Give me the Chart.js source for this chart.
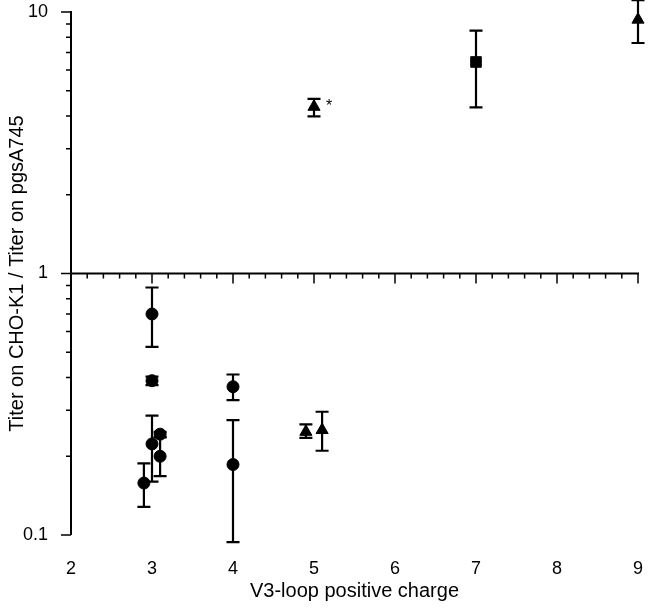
<!DOCTYPE html>
<html>
<head>
<meta charset="utf-8">
<script src="https://cdn.jsdelivr.net/npm/chart.js@4/dist/chart.umd.min.js"></script>
<style>
  html, body { margin: 0; padding: 0; background: #fff; }
</style>
</head>
<body>
<canvas id="titerChart" width="656" height="610"></canvas>
<script>
// V3-loop positive charge vs titer ratio, with the ends of each error bar
const circleX    = [3, 3, 3, 2.9, 3.1, 3.1, 4, 4];
const circleY    = [0.70, 0.389, 0.223, 0.158, 0.243, 0.200, 0.369, 0.186];
const circleLow  = [0.524, 0.374, 0.160, 0.128, 0.237, 0.168, 0.328, 0.094];
const circleHigh = [0.884, 0.403, 0.286, 0.188, 0.248, 0.236, 0.411, 0.275];

const triangleX    = [4.9, 5.1, 5, 9];
const triangleY    = [0.248, 0.252, 4.34, 9.35];
const triangleLow  = [0.235, 0.210, 3.99, 7.61];
const triangleHigh = [0.265, 0.296, 4.65, 11.1];
const triangleNote = ['', '', '*', ''];

const squareX    = [7];
const squareY    = [6.44];
const squareLow  = [4.32];
const squareHigh = [8.48];

const yTickLabels = [0.1, 1, 10];
const xMinorStep = 0.2;

Chart.defaults.font.family = '"Liberation Sans", Arial, Helvetica, sans-serif';
Chart.defaults.color = '#000';

function points(xs, ys, lo, hi, notes) {
  return xs.map((x, i) => ({ x: x, y: ys[i], lo: lo[i], hi: hi[i], note: notes ? notes[i] : '' }));
}

// axes (vertical at x=2, horizontal through y=1), error bars and the asterisk
const errorBarsAndAxes = {
  id: 'errorBarsAndAxes',
  beforeDatasetsDraw(chart) {
    const { ctx, scales: { x, y } } = chart;
    const x0 = x.getPixelForValue(x.min);
    const x1 = x.getPixelForValue(x.max);
    const yOne = y.getPixelForValue(1);
    ctx.save();
    ctx.strokeStyle = '#000';

    ctx.lineWidth = 2;
    ctx.beginPath();
    ctx.moveTo(x0, y.getPixelForValue(y.min));
    ctx.lineTo(x0, y.getPixelForValue(y.max) - 1);
    ctx.moveTo(x0, yOne);
    ctx.lineTo(x1 + 1, yOne);
    ctx.stroke();

    ctx.lineWidth = 1.5;
    ctx.beginPath();
    const e0 = Math.round(Math.log10(y.min)), e1 = Math.round(Math.log10(y.max));
    for (let e = e0; e <= e1; e++) {
      for (let k = 1; k <= 9; k++) {
        if (e === e1 && k > 1) break;
        const p = y.getPixelForValue(k * Math.pow(10, e));
        ctx.moveTo(x0, p);
        ctx.lineTo(x0 - (k === 1 ? 10 : 5), p);
      }
    }
    const n = Math.round((x.max - x.min) / xMinorStep);
    for (let i = 1; i <= n; i++) {
      const p = x.getPixelForValue(x.min + i * xMinorStep);
      ctx.moveTo(p, yOne);
      ctx.lineTo(p, yOne + (i % 5 === 0 ? 10 : 5));
    }
    ctx.stroke();

    ctx.lineWidth = 2.2;
    chart.data.datasets.forEach(ds => {
      ds.data.forEach(d => {
        const px = x.getPixelForValue(d.x);
        const top = y.getPixelForValue(d.hi);
        const bot = y.getPixelForValue(d.lo);
        ctx.beginPath();
        ctx.moveTo(px, top);
        ctx.lineTo(px, bot);
        ctx.moveTo(px - 6.5, top);
        ctx.lineTo(px + 6.5, top);
        ctx.moveTo(px - 6.5, bot);
        ctx.lineTo(px + 6.5, bot);
        ctx.stroke();
      });
    });
    ctx.restore();
  },
  afterDatasetsDraw(chart) {
    const { ctx, scales: { x, y } } = chart;
    ctx.save();
    ctx.fillStyle = '#000';
    ctx.font = '16px "Liberation Sans", Arial, sans-serif';
    ctx.textAlign = 'left';
    ctx.textBaseline = 'middle';
    chart.data.datasets.forEach(ds => {
      ds.data.forEach(d => {
        if (d.note) ctx.fillText(d.note, x.getPixelForValue(d.x) + 12, y.getPixelForValue(d.y));
      });
    });
    ctx.restore();
  }
};

new Chart(document.getElementById('titerChart').getContext('2d'), {
  type: 'scatter',
  data: {
    datasets: [
      {
        label: 'circles',
        data: points(circleX, circleY, circleLow, circleHigh),
        pointStyle: 'circle',
        pointRadius: 6,
        borderWidth: 1,
        backgroundColor: '#000',
        borderColor: '#000',
        clip: false
      },
      {
        label: 'triangles',
        data: points(triangleX, triangleY, triangleLow, triangleHigh, triangleNote),
        pointStyle: 'triangle',
        pointRadius: 7,
        borderWidth: 1,
        backgroundColor: '#000',
        borderColor: '#000',
        clip: false
      },
      {
        label: 'squares',
        data: points(squareX, squareY, squareLow, squareHigh),
        pointStyle: 'rect',
        pointRadius: 7.5,
        borderWidth: 1,
        backgroundColor: '#000',
        borderColor: '#000',
        clip: false
      }
    ]
  },
  options: {
    responsive: false,
    animation: false,
    layout: { padding: { top: 12, right: 18, left: 0, bottom: 0 } },
    plugins: {
      legend: { display: false },
      tooltip: { enabled: false }
    },
    scales: {
      x: {
        type: 'linear',
        min: 2,
        max: 9,
        grid: { display: false },
        border: { display: false },
        ticks: { stepSize: 1, padding: 15, font: { size: 18 } },
        title: {
          display: true,
          text: 'V3-loop positive charge',
          font: { size: 20 },
          padding: { top: 0, bottom: 7 }
        },
        afterFit: s => { s.height = 75; s.paddingLeft = 0; s.paddingRight = 0; }
      },
      y: {
        type: 'logarithmic',
        min: 0.1,
        max: 10,
        grid: { display: false },
        border: { display: false },
        ticks: {
          padding: 15,
          autoSkip: false,
          font: { size: 18 },
          callback: v => {
            const hit = yTickLabels.find(t => Math.abs(t - v) < 1e-9);
            return hit !== undefined ? String(hit) : '';
          }
        },
        title: {
          display: true,
          text: 'Titer on CHO-K1 / Titer on pgsA745',
          font: { size: 20 },
          padding: { top: 5, bottom: 0 }
        },
        afterFit: s => { s.width = 71; s.paddingTop = 0; s.paddingBottom = 0; }
      }
    }
  },
  plugins: [errorBarsAndAxes]
});
</script>
</body>
</html>
